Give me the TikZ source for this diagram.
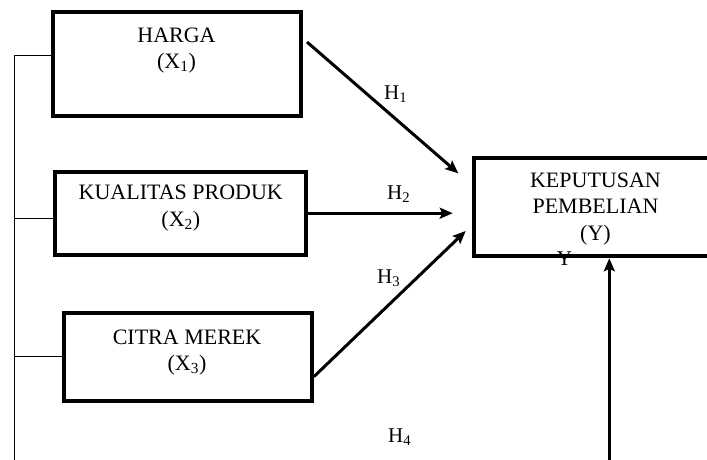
\documentclass[tikz,border=0pt]{standalone}
\usepackage{fontspec}
\setmainfont{Liberation Serif}
\usetikzlibrary{arrows.meta}
\tikzset{
  varbox/.style={draw, line width=4pt, inner sep=0pt},
  boxtext/.style={align=center, inner sep=0pt, anchor=north, font=\fontsize{22}{26.3}\selectfont},
  hyp/.style={inner sep=0pt, anchor=base west, font=\fontsize{21}{24}\selectfont},
  path arrow/.style={line width=3pt, -{Stealth[length=13pt,width=11pt,inset=2.5pt]}},
  link/.style={line width=1.3pt}
}
\begin{document}
\begin{tikzpicture}[x=1pt,y=-1pt]
\useasboundingbox (0,0) rectangle (707,459);
\node[hyp] (ylabel) at (556.7,265.7) {Y};
\node[varbox,minimum width=247.5pt,minimum height=103.8pt] (harga) at (176.75,63.6) {};
\node[varbox,minimum width=250.7pt,minimum height=83pt] (kualitas) at (180.65,213.2) {};
\node[varbox,minimum width=248pt,minimum height=87.9pt] (citra) at (187.8,357.25) {};
\node[varbox,minimum width=246pt,minimum height=98pt] (keputusan) at (597,207.3) {};
\node[boxtext] (hargatext) at (176.5,27.3) {HARGA\\(X\textsubscript{1})};
\node[boxtext] (kualitastext) at (180.8,185) {KUALITAS PRODUK\\(X\textsubscript{2})};
\node[boxtext] (citratext) at (187,329.3) {CITRA MEREK\\(X\textsubscript{3})};
\node[boxtext] (keputusantext) at (595.5,172.7) {KEPUTUSAN\\PEMBELIAN\\(Y)};
\node[hyp] (h1label) at (384,99) {H\textsubscript{1}};
\node[hyp] (h2label) at (387,199.3) {H\textsubscript{2}};
\node[hyp] (h3label) at (377,283) {H\textsubscript{3}};
\node[hyp] (h4label) at (388,442) {H\textsubscript{4}};
\coordinate (h1) at (458.3,173.3);
\coordinate (h2) at (452.7,213.2);
\coordinate (h3) at (465.7,231);
\coordinate (ybase) at (609.3,462);
\coordinate (bus) at (14.3,462);
\draw[path arrow] ([shift={(4.5pt,21.6pt)}]harga.east) -- (h1);
\draw[path arrow] (kualitas.east) -- (h2);
\draw[path arrow] ([yshift=-19.5pt]citra.east) -- (h3);
\draw[path arrow] (ybase) -- (ybase |- keputusan.south);
\draw[link] (harga.west |- 0,55.7) -| (bus);
\draw[link] (bus |- 0,218.3) -- (kualitas.west |- 0,218.3);
\draw[link] (bus |- 0,356.7) -- (citra.west |- 0,356.7);
\end{tikzpicture}
\end{document}
